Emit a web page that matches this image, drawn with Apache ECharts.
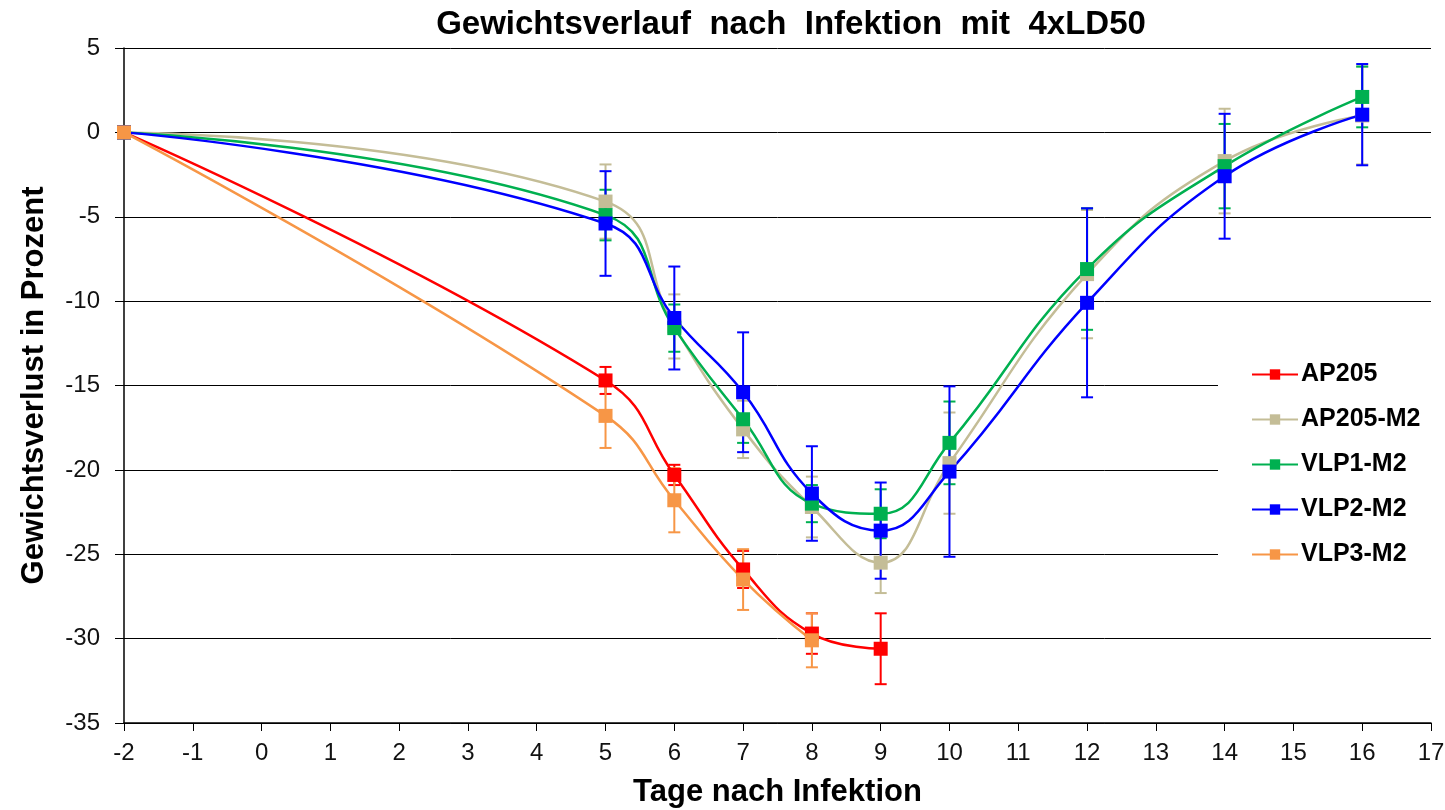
<!DOCTYPE html>
<html>
<head>
<meta charset="utf-8">
<script src="https://cdn.jsdelivr.net/npm/echarts@6/dist/echarts.min.js"></script>
<style>html,body{margin:0;padding:0;background:#fff}#c{width:1445px;height:810px}</style>
</head>
<body>
<div id="c"></div>
<script>
var seriesNames = ['AP205', 'AP205-M2', 'VLP1-M2', 'VLP2-M2', 'VLP3-M2'];
var seriesColors = ['#FF0000', '#C4BD97', '#00B050', '#0000FF', '#F79646'];

var daysLong = [-2, 5, 6, 7, 8, 9, 10, 12, 14, 16];
var daysAP205 = [-2, 5, 6, 7, 8, 9];
var daysVLP3 = [-2, 5, 6, 7, 8];

var ap205 = [0, -14.7, -20.3, -25.9, -29.7, -30.6];
var ap205Err = [0, 0.8, 0.6, 1.1, 1.2, 2.1];

var ap205m2 = [0, -4.1, -11.5, -17.6, -22.2, -25.5, -19.6, -8.4, -1.7, 1.0];
var ap205m2Err = [0, 2.2, 1.9, 1.7, 1.8, 1.8, 3.0, 3.8, 3.1, 2.9];

var vlp1m2 = [0, -4.9, -11.6, -17.0, -22.0, -22.6, -18.4, -8.1, -2.0, 2.1];
var vlp1m2Err = [0, 1.5, 1.4, 1.4, 1.1, 1.45, 2.45, 3.6, 2.5, 1.8];

var vlp2m2 = [0, -5.4, -11.0, -15.4, -21.4, -23.6, -20.1, -10.1, -2.6, 1.05];
var vlp2m2Err = [0, 3.1, 3.05, 3.55, 2.8, 2.85, 5.05, 5.6, 3.7, 3.0];

var vlp3m2 = [0, -16.8, -21.8, -26.5, -30.1];
var vlp3m2Err = [0, 1.9, 1.9, 1.8, 1.6];

var xTicks = {min: -2, max: 17, interval: 1};
var yTicks = {min: -35, max: 5, interval: 5};

var groups = [
  {x: daysAP205, y: ap205, e: ap205Err},
  {x: daysLong, y: ap205m2, e: ap205m2Err},
  {x: daysLong, y: vlp1m2, e: vlp1m2Err},
  {x: daysLong, y: vlp2m2, e: vlp2m2Err},
  {x: daysVLP3, y: vlp3m2, e: vlp3m2Err}
];

var font = '"Liberation Sans", Arial, sans-serif';
var series = [];
groups.forEach(function (g, i) {
  var color = seriesColors[i];
  var errData = [];
  for (var k = 0; k < g.x.length; k++) {
    if (g.e[k] > 0) errData.push([g.x[k], g.y[k] - g.e[k], g.y[k] + g.e[k]]);
  }
  series.push({
    name: seriesNames[i] + ' err',
    type: 'custom',
    data: errData,
    z: 3,
    silent: true,
    renderItem: function (params, api) {
      var x = api.value(0);
      var lo = api.coord([x, api.value(1)]);
      var hi = api.coord([x, api.value(2)]);
      var w = 6;
      var st = {stroke: color, lineWidth: 2};
      return {
        type: 'group',
        children: [
          {type: 'line', shape: {x1: lo[0], y1: lo[1], x2: hi[0], y2: hi[1]}, style: st},
          {type: 'line', shape: {x1: lo[0] - w, y1: lo[1], x2: lo[0] + w, y2: lo[1]}, style: st},
          {type: 'line', shape: {x1: hi[0] - w, y1: hi[1], x2: hi[0] + w, y2: hi[1]}, style: st}
        ]
      };
    }
  });
});
groups.forEach(function (g, i) {
  series.push({
    name: seriesNames[i],
    type: 'line',
    data: g.x.map(function (d, k) { return [d, g.y[k]]; }),
    smooth: 0.45,
    symbol: 'rect',
    symbolSize: 14,
    z: 4,
    lineStyle: {color: seriesColors[i], width: 2.5},
    itemStyle: {color: seriesColors[i]}
  });
});

var chart = echarts.init(document.getElementById('c'));
chart.setOption({
  animation: false,
  backgroundColor: '#fff',
  title: {
    text: 'Gewichtsverlauf  nach  Infektion  mit  4xLD50',
    left: 786, textAlign: 'center', top: 3,
    textStyle: {fontFamily: font, fontWeight: 'bold', fontSize: 33, color: '#000'}
  },
  grid: {left: 124, right: 14, top: 48, bottom: 87, outerBoundsMode: 'none', containLabel: false},
  legend: {
    data: seriesNames,
    orient: 'vertical',
    left: 1218, top: 350,
    padding: [12, 20, 15, 33],
    backgroundColor: '#fff',
    itemWidth: 46, itemHeight: 13,
    itemGap: 20,
    textStyle: {fontFamily: font, fontWeight: 'bold', fontSize: 25, color: '#000', padding: [0, 0, 0, -2]}
  },
  xAxis: {
    type: 'value',
    min: xTicks.min, max: xTicks.max, interval: xTicks.interval,
    name: 'Tage nach Infektion', nameLocation: 'middle', nameGap: 54,
    nameTextStyle: {fontFamily: font, fontWeight: 'bold', fontSize: 31, color: '#000'},
    axisLine: {onZero: false, lineStyle: {color: '#000', width: 1.5}},
    axisTick: {show: true, length: 8, lineStyle: {color: '#000'}},
    axisLabel: {fontFamily: font, fontSize: 24, color: '#111', margin: 18},
    splitLine: {show: false}
  },
  yAxis: {
    type: 'value',
    min: yTicks.min, max: yTicks.max, interval: yTicks.interval,
    name: 'Gewichtsverlust in Prozent', nameLocation: 'middle', nameGap: 74,
    nameTextStyle: {fontFamily: font, fontWeight: 'bold', fontSize: 31, color: '#000'},
    axisLine: {show: true, onZero: false, lineStyle: {color: '#000', width: 1.5}},
    axisTick: {show: true, length: 9, lineStyle: {color: '#000'}},
    axisLabel: {fontFamily: font, fontSize: 24, color: '#111', margin: 24},
    splitLine: {show: true, lineStyle: {color: '#000', width: 1}}
  },
  series: series
});
</script>
</body>
</html>
